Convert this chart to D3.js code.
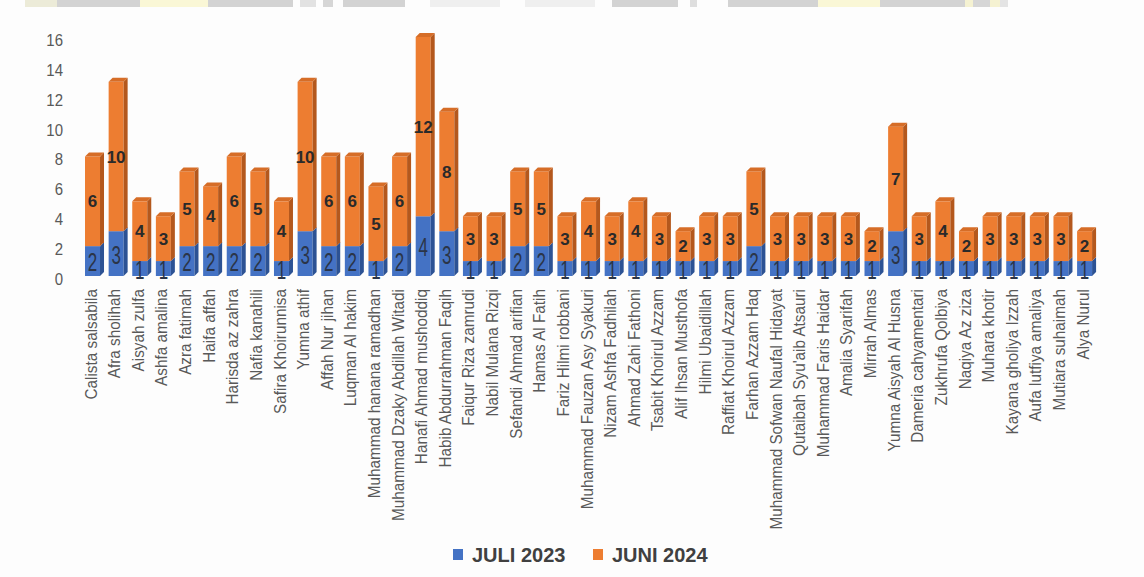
<!DOCTYPE html>
<html>
<head>
<meta charset="utf-8">
<script src="https://cdn.jsdelivr.net/npm/d3@7"></script>
<style>
  html, body { margin: 0; padding: 0; background: #fdfdfd; }
  svg { display: block; }
</style>
</head>
<body>
<div id="chart"></div>
<script>
const names = [
  "Calista salsabila", "Afra sholihah", "Aisyah zulfa", "Ashfa amalina", "Azra fatimah",
  "Haifa affah", "Harisda az zahra", "Nafia kanahili", "Safira Khoirunnisa", "Yumna athif",
  "Affah Nur jihan", "Luqman Al hakim", "Muhammad hanana ramadhan", "Muhammad Dzaky Abdillah Witadi",
  "Hanafi Ahmad mushoddiq", "Habib Abdurrahman Faqih", "Faiqur Riza zamrudi", "Nabil Mulana Rizqi",
  "Sefandi Ahmad arifian", "Hamas Al Fatih", "Fariz Hilmi robbani", "Muhammad Fauzan Asy Syakuri",
  "Nizam Ashfa Fadhilah", "Ahmad Zahi Fathoni", "Tsabit Khoirul Azzam", "Alif Ihsan Musthofa",
  "Hilmi Ubaidillah", "Raffiat Khoirul Azzam", "Farhan Azzam Haq", "Muhammad Sofwan Naufal Hidayat",
  "Qutaibah Syu'aib Atsauri", "Muhammad Faris Haidar", "Amalia Syarifah", "Mirrah Almas",
  "Yumna Aisyah Al Husna", "Dameria cahyamentari", "Zukhrufa Qolbiya", "Naqiya Az ziza",
  "Muhara khotir", "Kayana gholiya Izzah", "Aufa lutfiya amaliya", "Mutiara suhaimah", "Alya Nurul"
];
const juli2023 = [2,3,1,1,2,2,2,2,1,3,2,2,1,2,4,3,1,1,2,2,1,1,1,1,1,1,1,1,2,1,1,1,1,1,3,1,1,1,1,1,1,1,1];
const juni2024 = [6,10,4,3,5,4,6,5,4,10,6,6,5,6,12,8,3,3,5,5,3,4,3,4,3,2,3,3,5,3,3,3,3,2,7,3,4,2,3,3,3,3,2];
const seriesNames = ["JULI 2023", "JUNI 2024"];
const yTicks = [0, 2, 4, 6, 8, 10, 12, 14, 16];

// decorative strip at the very top of the picture (cropped page header)
const topStrip = [
  [25, 57, "#ecebd8"], [57, 140, "#d3d3d3"], [140, 208, "#faf7d6"], [208, 293, "#d3d3d3"],
  [300, 316, "#e2e2e2"], [323, 333, "#d6d6d6"], [343, 405, "#d3d3d3"], [430, 500, "#efefef"],
  [525, 595, "#efefef"], [612, 678, "#d3d3d3"], [690, 697, "#dedede"], [728, 818, "#d3d3d3"],
  [818, 880, "#faf7d6"], [880, 965, "#d3d3d3"], [965, 973, "#f5f2d2"], [973, 990, "#d6d6d6"],
  [990, 1000, "#f5f2d2"], [1000, 1008, "#e4e4e4"]
];

const W = 1144, H = 577;
const colors = {
  blue:   { front: "#4472c4", side: "#2c5294", top: "#3a64ad" },
  orange: { front: "#ed7d31", side: "#b4581d", top: "#d66d27" }
};
const depthX = 4, depthY = 4;

const svg = d3.select("#chart").append("svg").attr("width", W).attr("height", H);
svg.append("rect").attr("width", W).attr("height", H).attr("fill", "#fdfdfd");

svg.append("g").selectAll("rect").data(topStrip).join("rect")
  .attr("x", d => d[0]).attr("y", 0).attr("width", d => d[1] - d[0]).attr("height", 7)
  .attr("fill", d => d[2]);

const x = d3.scaleBand().domain(names).range([80.7, 1096.4]).paddingInner(0.365).paddingOuter(0.1825);
const y = d3.scaleLinear().domain([0, 16]).range([276, 37]);
const bw = x.bandwidth();

// Y axis
const yAxis = svg.append("g").attr("transform", "translate(63,3)")
  .call(d3.axisLeft(y).tickValues(yTicks).tickSize(0).tickPadding(0));
yAxis.select(".domain").remove();
yAxis.selectAll("text")
  .attr("font-family", "'Liberation Sans', Arial, sans-serif")
  .attr("font-size", 15).attr("fill", "#595959")
  .attr("transform", "scale(1,1.12)");

// build segments
const data = names.map((n, i) => ({ name: n, a: juli2023[i], b: juni2024[i] }));

function drawSeg(g, x0, y0, y1, c, withTop) {
  g.append("rect").attr("x", x0).attr("y", y1).attr("width", bw).attr("height", y0 - y1).attr("fill", c.front);
  g.append("path").attr("d",
    `M${x0 + bw},${y0} L${x0 + bw + depthX},${y0 - depthY} L${x0 + bw + depthX},${y1 - depthY} L${x0 + bw},${y1} Z`)
    .attr("fill", c.side);
  if (withTop) {
    g.append("path").attr("d",
      `M${x0},${y1} L${x0 + depthX},${y1 - depthY} L${x0 + bw + depthX},${y1 - depthY} L${x0 + bw},${y1} Z`)
      .attr("fill", c.top);
  }
}

const bars = svg.append("g");
data.forEach(d => {
  const g = bars.append("g");
  const x0 = x(d.name);
  drawSeg(g, x0, y(0), y(d.a), colors.blue, false);
  drawSeg(g, x0, y(d.a), y(d.a + d.b), colors.orange, true);
});

// value labels
const labels = svg.append("g");
data.forEach(d => {
  const cx = x(d.name) + bw / 2;
  labels.append("text")
    .attr("transform", `translate(${cx},${(y(0) + y(d.a)) / 2 + 1}) scale(1,1.5)`)
    .attr("text-anchor", "middle").attr("dy", "0.36em")
    .attr("font-family", "'Liberation Sans Narrow', 'Liberation Sans', Arial, sans-serif")
    .attr("font-size", 17).attr("fill", "#2b3548")
    .text(d.a);
  labels.append("text")
    .attr("x", cx).attr("y", (y(d.a) + y(d.a + d.b)) / 2)
    .attr("text-anchor", "middle").attr("dy", "0.36em")
    .attr("font-family", "'Liberation Sans Narrow', 'Liberation Sans', Arial, sans-serif")
    .attr("font-weight", "bold")
    .attr("font-size", 17).attr("fill", "#2a2a2a")
    .text(d.b);
});

// category labels
svg.append("g").selectAll("text").data(names).join("text")
  .attr("transform", d => `translate(${x(d) + bw / 2 - 2},289) rotate(-90) scale(1.02,1.15)`)
  .attr("text-anchor", "end").attr("dy", "0.35em")
  .attr("font-family", "'Liberation Sans', Arial, sans-serif")
  .attr("font-size", 15).attr("fill", "#595959")
  .text(d => d);

// legend
const legend = svg.append("g");
const legendItems = [
  { name: seriesNames[0], color: colors.blue.front, x: 453 },
  { name: seriesNames[1], color: colors.orange.front, x: 593 }
];
legendItems.forEach(it => {
  legend.append("rect").attr("x", it.x).attr("y", 549).attr("width", 10).attr("height", 11).attr("fill", it.color);
  legend.append("text").attr("x", it.x + 19).attr("y", 562)
    .attr("font-family", "'Liberation Sans', Arial, sans-serif")
    .attr("font-weight", "bold").attr("font-size", 20).attr("fill", "#404040")
    .text(it.name);
});
</script>
</body>
</html>
